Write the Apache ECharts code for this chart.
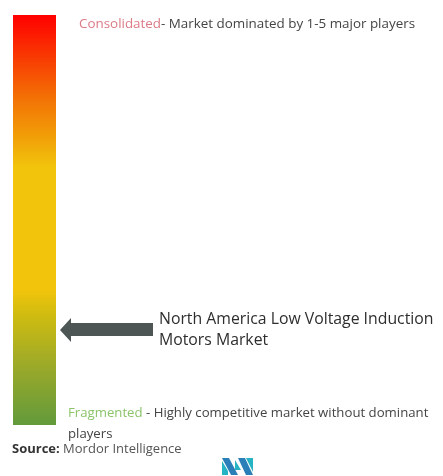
<!DOCTYPE html>
<html>
<head>
<meta charset="utf-8">
<script src="https://cdn.jsdelivr.net/npm/echarts@6/dist/echarts.min.js"></script>
<style>
  html, body { margin: 0; padding: 0; background: #fff; }
  #chart { width: 443px; height: 476px; }
</style>
</head>
<body>
<div id="chart"></div>
<script>
// Market concentration scale: 1 = consolidated (top), 0 = fragmented (bottom)
const scaleCategories = ['concentration'];
const scaleValues = [1];
const scaleStops = [
  [0.00, '#629a3b'],
  [0.14, '#9aa92a'],
  [0.27, '#d0bc10'],
  [0.33, '#f2c40c'],
  [0.63, '#f2c40c'],
  [0.70, '#f1a008'],
  [0.80, '#f37005'],
  [1.00, '#ff0000']
];
// Where this market sits on the scale
const marketName = 'North America Low Voltage Induction\nMotors Market';
const marketPosition = [0.232];
const topLabel = ['Consolidated', '- Market dominated by 1-5 major players'];
const bottomLabel = ['Fragmented', ' - Highly competitive market without dominant', 'players'];
const sourceText = ['Source:', ' Mordor Intelligence'];

const chart = echarts.init(document.getElementById('chart'), null, { renderer: 'canvas' });
const FONT = '"Open Sans", "Noto Sans", sans-serif';

chart.setOption({
  animation: false,
  backgroundColor: '#ffffff',
  grid: { left: 13, top: 15, width: 43, height: 410 },
  xAxis: { type: 'category', data: scaleCategories, show: false },
  yAxis: { type: 'value', min: 0, max: 1, show: false },
  series: [{
    type: 'bar',
    data: scaleValues,
    barWidth: '100%',
    itemStyle: {
      color: new echarts.graphic.LinearGradient(0, 1, 0, 0,
        scaleStops.map(s => ({ offset: s[0], color: s[1] })))
    },
    markPoint: {
      symbol: 'path://M0,12 L11,0 L11,5 L93,5 L93,18 L11,18 L11,24 Z',
      symbolSize: [93, 24],
      symbolKeepAspect: false,
      symbolOffset: [72, 0],
      itemStyle: { color: '#4e5655' },
      label: {
        show: true,
        position: 'right',
        distance: 6,
        formatter: marketName,
        color: '#2e2e2e',
        fontFamily: FONT,
        fontSize: 15.8,
        lineHeight: 21,
        align: 'left'
      },
      data: [{ coord: [0, marketPosition[0]] }]
    }
  }],
  graphic: [
    {
      type: 'text', left: 79, top: 18,
      style: {
        text: '{a|' + topLabel[0] + '}{b|' + topLabel[1] + '}',
        rich: {
          a: { fill: '#dc7a86', fontFamily: FONT, fontSize: 13.4 },
          b: { fill: '#444', fontFamily: FONT, fontSize: 13.4 }
        }
      }
    },
    {
      type: 'text', left: 68, top: 407,
      style: {
        text: '{a|' + bottomLabel[0] + '}{b|' + bottomLabel[1] + '}\n{b|' + bottomLabel[2] + '}',
        rich: {
          a: { fill: '#8cc46a', fontFamily: FONT, fontSize: 13.2, lineHeight: 21 },
          b: { fill: '#444', fontFamily: FONT, fontSize: 13.2, lineHeight: 21 }
        }
      }
    },
    {
      type: 'text', left: 12, top: 443,
      style: {
        text: '{a|' + sourceText[0] + '}{b|' + sourceText[1] + '}',
        rich: {
          a: { fill: '#333', fontFamily: FONT, fontSize: 13, fontWeight: 'bold' },
          b: { fill: '#555', fontFamily: FONT, fontSize: 13 }
        }
      }
    },
    // logo mark
    {
      type: 'group', left: 222, top: 458,
      children: [
        { type: 'polygon', shape: { points: [[0,0],[7,0],[16,17],[9,17]] }, style: { fill: '#2a7fb8' } },
        { type: 'polygon', shape: { points: [[0,3],[6,13],[6,17],[0,17]] }, style: { fill: '#26b3c4' } },
        { type: 'polygon', shape: { points: [[16,0],[23,0],[31,17],[24,17]] }, style: { fill: '#2a7fb8' } },
        { type: 'polygon', shape: { points: [[24,0],[31,0],[31,14]] }, style: { fill: '#26b3c4' } },
        { type: 'polygon', shape: { points: [[13,2],[19,12],[13,12]] }, style: { fill: '#26b3c4' } }
      ]
    }
  ]
});
</script>
</body>
</html>
